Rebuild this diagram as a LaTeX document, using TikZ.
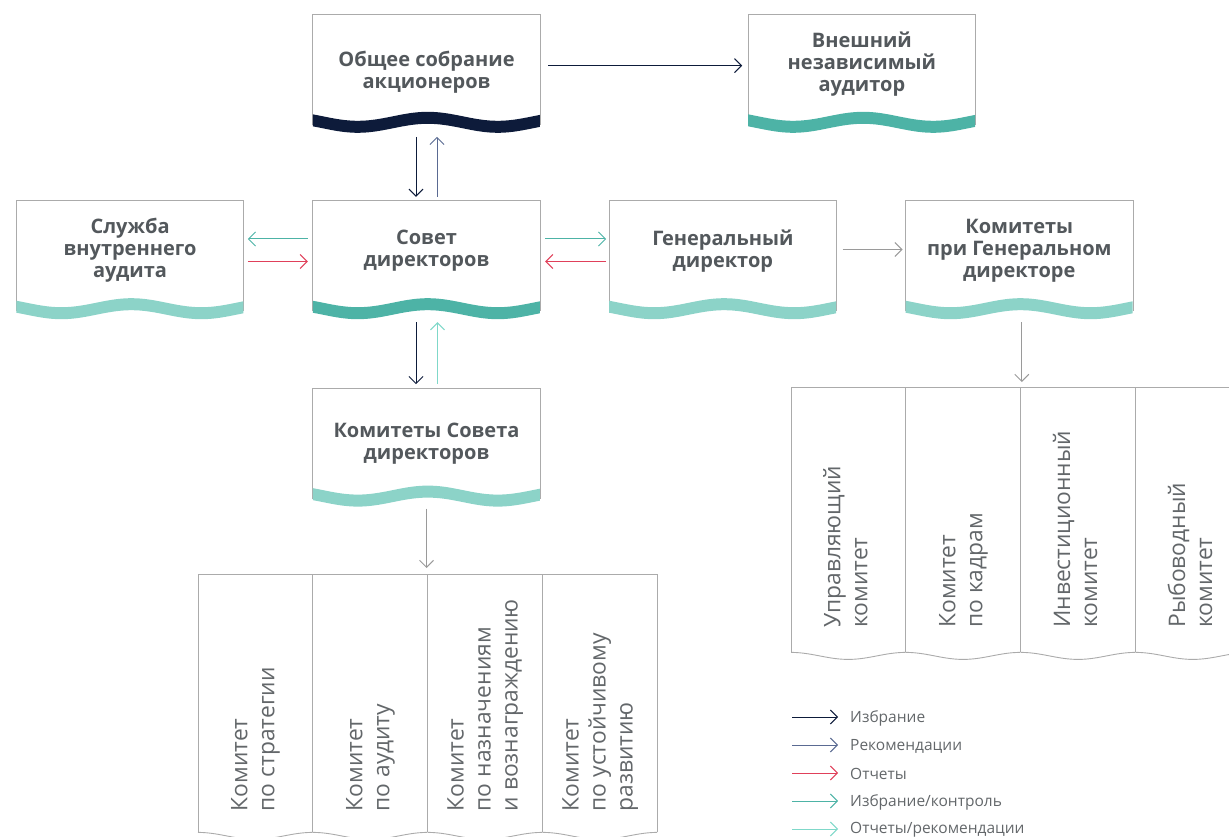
\documentclass[tikz,border=0pt]{standalone}
\usepackage{graphicx}
\usepackage{fontspec}
\setmainfont{Open Sans}
\usetikzlibrary{arrows.meta,positioning}

\definecolor{navy}{HTML}{0D1B3A}
\definecolor{slate}{HTML}{5A6A92}
\definecolor{crimson}{HTML}{E0405A}
\definecolor{teal}{HTML}{4DB3A6}
\definecolor{mint}{HTML}{8CD3C8}
\definecolor{aqua}{HTML}{7FD8C9}
\definecolor{framegray}{HTML}{ABABAB}
\definecolor{arrowgray}{HTML}{9A9A9A}
\definecolor{textgray}{HTML}{53585C}
\definecolor{softgray}{HTML}{63676A}

% wavy band under a box
\newcommand\band[2]{%
  \draw[frame] ([yshift=-13pt]#1.south west) -- (#1.north west)
    -- (#1.north east) -- ([yshift=-13pt]#1.south east);
  \begin{scope}[shift={(#1.south west)}]
    \fill[#2] plot[domain=0:227,samples=60] (\x,{4.5-4.5*cos((\x+25)*2.571429)})
      -- plot[domain=227:0,samples=60] (\x,{16.5-4.5*cos((\x+25)*2.571429)}) -- cycle;
  \end{scope}}

% thin wavy edge under a column
\newcommand\edge[1]{%
  \begin{scope}[shift={(#1.south west)}]
    \draw[frame] plot[domain=0:114.5,samples=40] (\x,{3.5-3.5*cos(\x*3.144105)});
  \end{scope}}

% box title, lowered a little
\newcommand\boxtext[2][2pt]{\raisebox{-#1}[\height][\depth]{\begin{tabular}{@{}c@{}}#2\end{tabular}}}
% column title, read bottom to top
\newcommand\vtext[1]{\rotatebox{90}{\makebox[216pt][l]{\begin{tabular}{@{}l@{}}#1\end{tabular}}}}

\tikzset{
  frame/.style={draw=framegray, line width=0.9pt},
  box/.style={minimum width=227pt, minimum height=97pt, inner sep=0pt,
    text=textgray, font=\fontsize{20}{22}\selectfont\bfseries},
  col/.style={minimum width=114.5pt, inner sep=0pt, text=softgray,
    font=\fontsize{22.8}{27}\selectfont},
  legtext/.style={anchor=west, inner sep=0pt, text=softgray,
    font=\fontsize{15.5}{18}\selectfont},
  link/.style={-{Straight Barb[length=7pt,width=14pt]}, line width=1pt},
  elect/.style={link, navy},
  advise/.style={link, slate},
  report/.style={link, crimson},
  control/.style={link, teal},
  feedback/.style={link, aqua},
  plain/.style={link, arrowgray},
}

\begin{document}
\begin{tikzpicture}[x=1pt,y=-1pt]
  \useasboundingbox (0,0) rectangle (1229,837);
  \clip (0,0) rectangle (1229,837);

  % boxes
  \node[box] (board) at (426.5,249.5) {\boxtext{Совет\\директоров}};
  \node[box, left=69pt of board] (audit) {\boxtext{Служба\\внутреннего\\аудита}};
  \node[box, right=69pt of board] (ceo) {\boxtext{Генеральный\\директор}};
  \node[box, right=69pt of ceo] (ceocom) {\boxtext{Комитеты\\при Генеральном\\директоре}};
  \node[box, above=89pt of board] (gsm) {\boxtext[10pt]{Общее собрание\\акционеров}};
  \node[box, right=208pt of gsm] (ext) {\boxtext{Внешний\\независимый\\аудитор}};
  \node[box, below=90pt of board] (bcom) {\boxtext[7pt]{Комитеты Совета\\директоров}};

  \band{gsm}{navy}
  \band{ext}{teal}
  \band{board}{teal}
  \band{audit}{mint}
  \band{ceo}{mint}
  \band{ceocom}{mint}
  \band{bcom}{mint}

  % committees of the board
  \node[col, minimum height=258pt, anchor=north west] (s1) at (198,574) {\vtext{Комитет\\по стратегии}};
  \node[col, minimum height=258pt, right=0pt of s1] (s2) {\vtext{Комитет\\по аудиту}};
  \node[col, minimum height=258pt, right=0pt of s2] (s3) {\vtext{Комитет\\по назначениям\\и вознаграждению}};
  \node[col, minimum height=258pt, right=0pt of s3] (s4) {\vtext{Комитет\\по устойчивому\\развитию}};
  \draw[frame] (s1.south west) -- (s1.north west) -- (s4.north east) -- (s4.south east);
  \foreach \c in {s1,s2,s3} \draw[frame] (\c.north east) -- (\c.south east);
  \foreach \c in {s1,s2,s3,s4} \edge{\c};

  % committees of the CEO
  \node[col, minimum height=265pt, anchor=north west] (k1) at (791,387) {\vtext{Управляющий\\комитет}};
  \node[col, minimum height=265pt, right=0pt of k1] (k2) {\vtext{Комитет\\по кадрам}};
  \node[col, minimum height=265pt, right=0pt of k2] (k3) {\vtext{Инвестиционный\\комитет}};
  \node[col, minimum height=265pt, right=0pt of k3] (k4) {\vtext{Рыбоводный\\комитет}};
  \draw[frame] (k1.south west) -- (k1.north west) -- (k4.north east) -- (k4.south east);
  \foreach \c in {k1,k2,k3} \draw[frame] (\c.north east) -- (\c.south east);
  \foreach \c in {k1,k2,k3,k4} \edge{\c};

  % links
  \draw[elect, shorten <=8pt, shorten >=6pt] ([yshift=-2.5pt]gsm.east) -- ([yshift=-2.5pt]ext.west);
  \draw[elect, shorten <=25pt, shorten >=4pt] ([xshift=-10.5pt]gsm.south) -- ([xshift=-10.5pt]board.north);
  \draw[advise, shorten <=4pt, shorten >=25pt] ([xshift=10.5pt]board.north) -- ([xshift=10.5pt]gsm.south);
  \draw[control, shorten <=5pt, shorten >=4pt] ([yshift=10.5pt]board.west) -- ([yshift=10.5pt]audit.east);
  \draw[report, shorten <=4pt, shorten >=5pt] ([yshift=-12pt]audit.east) -- ([yshift=-12pt]board.west);
  \draw[control, shorten <=5pt, shorten >=3pt] ([yshift=10.5pt]board.east) -- ([yshift=10.5pt]ceo.west);
  \draw[report, shorten <=3pt, shorten >=5pt] ([yshift=-12pt]ceo.west) -- ([yshift=-12pt]board.east);
  \draw[plain, shorten <=6pt, shorten >=3pt] (ceo) -- (ceocom);
  \draw[elect, shorten <=24pt, shorten >=4pt] ([xshift=-10.5pt]board.south) -- ([xshift=-10.5pt]bcom.north);
  \draw[feedback, shorten <=4pt, shorten >=24pt] ([xshift=11pt]bcom.north) -- ([xshift=11pt]board.south);
  \draw[plain, shorten <=23pt, shorten >=6pt] (bcom.south) -- (bcom.south |- s2.north);
  \draw[plain, shorten <=24pt, shorten >=5pt] ([xshift=2.5pt]ceocom.south) -- ([xshift=2.5pt]ceocom.south |- k2.north);

  % legend
  \node[legtext] (l1) at (850,718) {Избрание};
  \node[legtext] (l2) at (850,746) {Рекомендации};
  \node[legtext] (l3) at (850,774) {Отчеты};
  \node[legtext] (l4) at (850,802) {Избрание/контроль};
  \node[legtext] (l5) at (850,830) {Отчеты/рекомендации};
  \draw[elect] ([xshift=-58pt,yshift=1pt]l1.west) -- ([xshift=-12pt,yshift=1pt]l1.west);
  \draw[advise] ([xshift=-58pt,yshift=1pt]l2.west) -- ([xshift=-12pt,yshift=1pt]l2.west);
  \draw[report] ([xshift=-58pt,yshift=1pt]l3.west) -- ([xshift=-12pt,yshift=1pt]l3.west);
  \draw[control] ([xshift=-58pt,yshift=1pt]l4.west) -- ([xshift=-12pt,yshift=1pt]l4.west);
  \draw[feedback] ([xshift=-58pt,yshift=1pt]l5.west) -- ([xshift=-12pt,yshift=1pt]l5.west);
\end{tikzpicture}
\end{document}
